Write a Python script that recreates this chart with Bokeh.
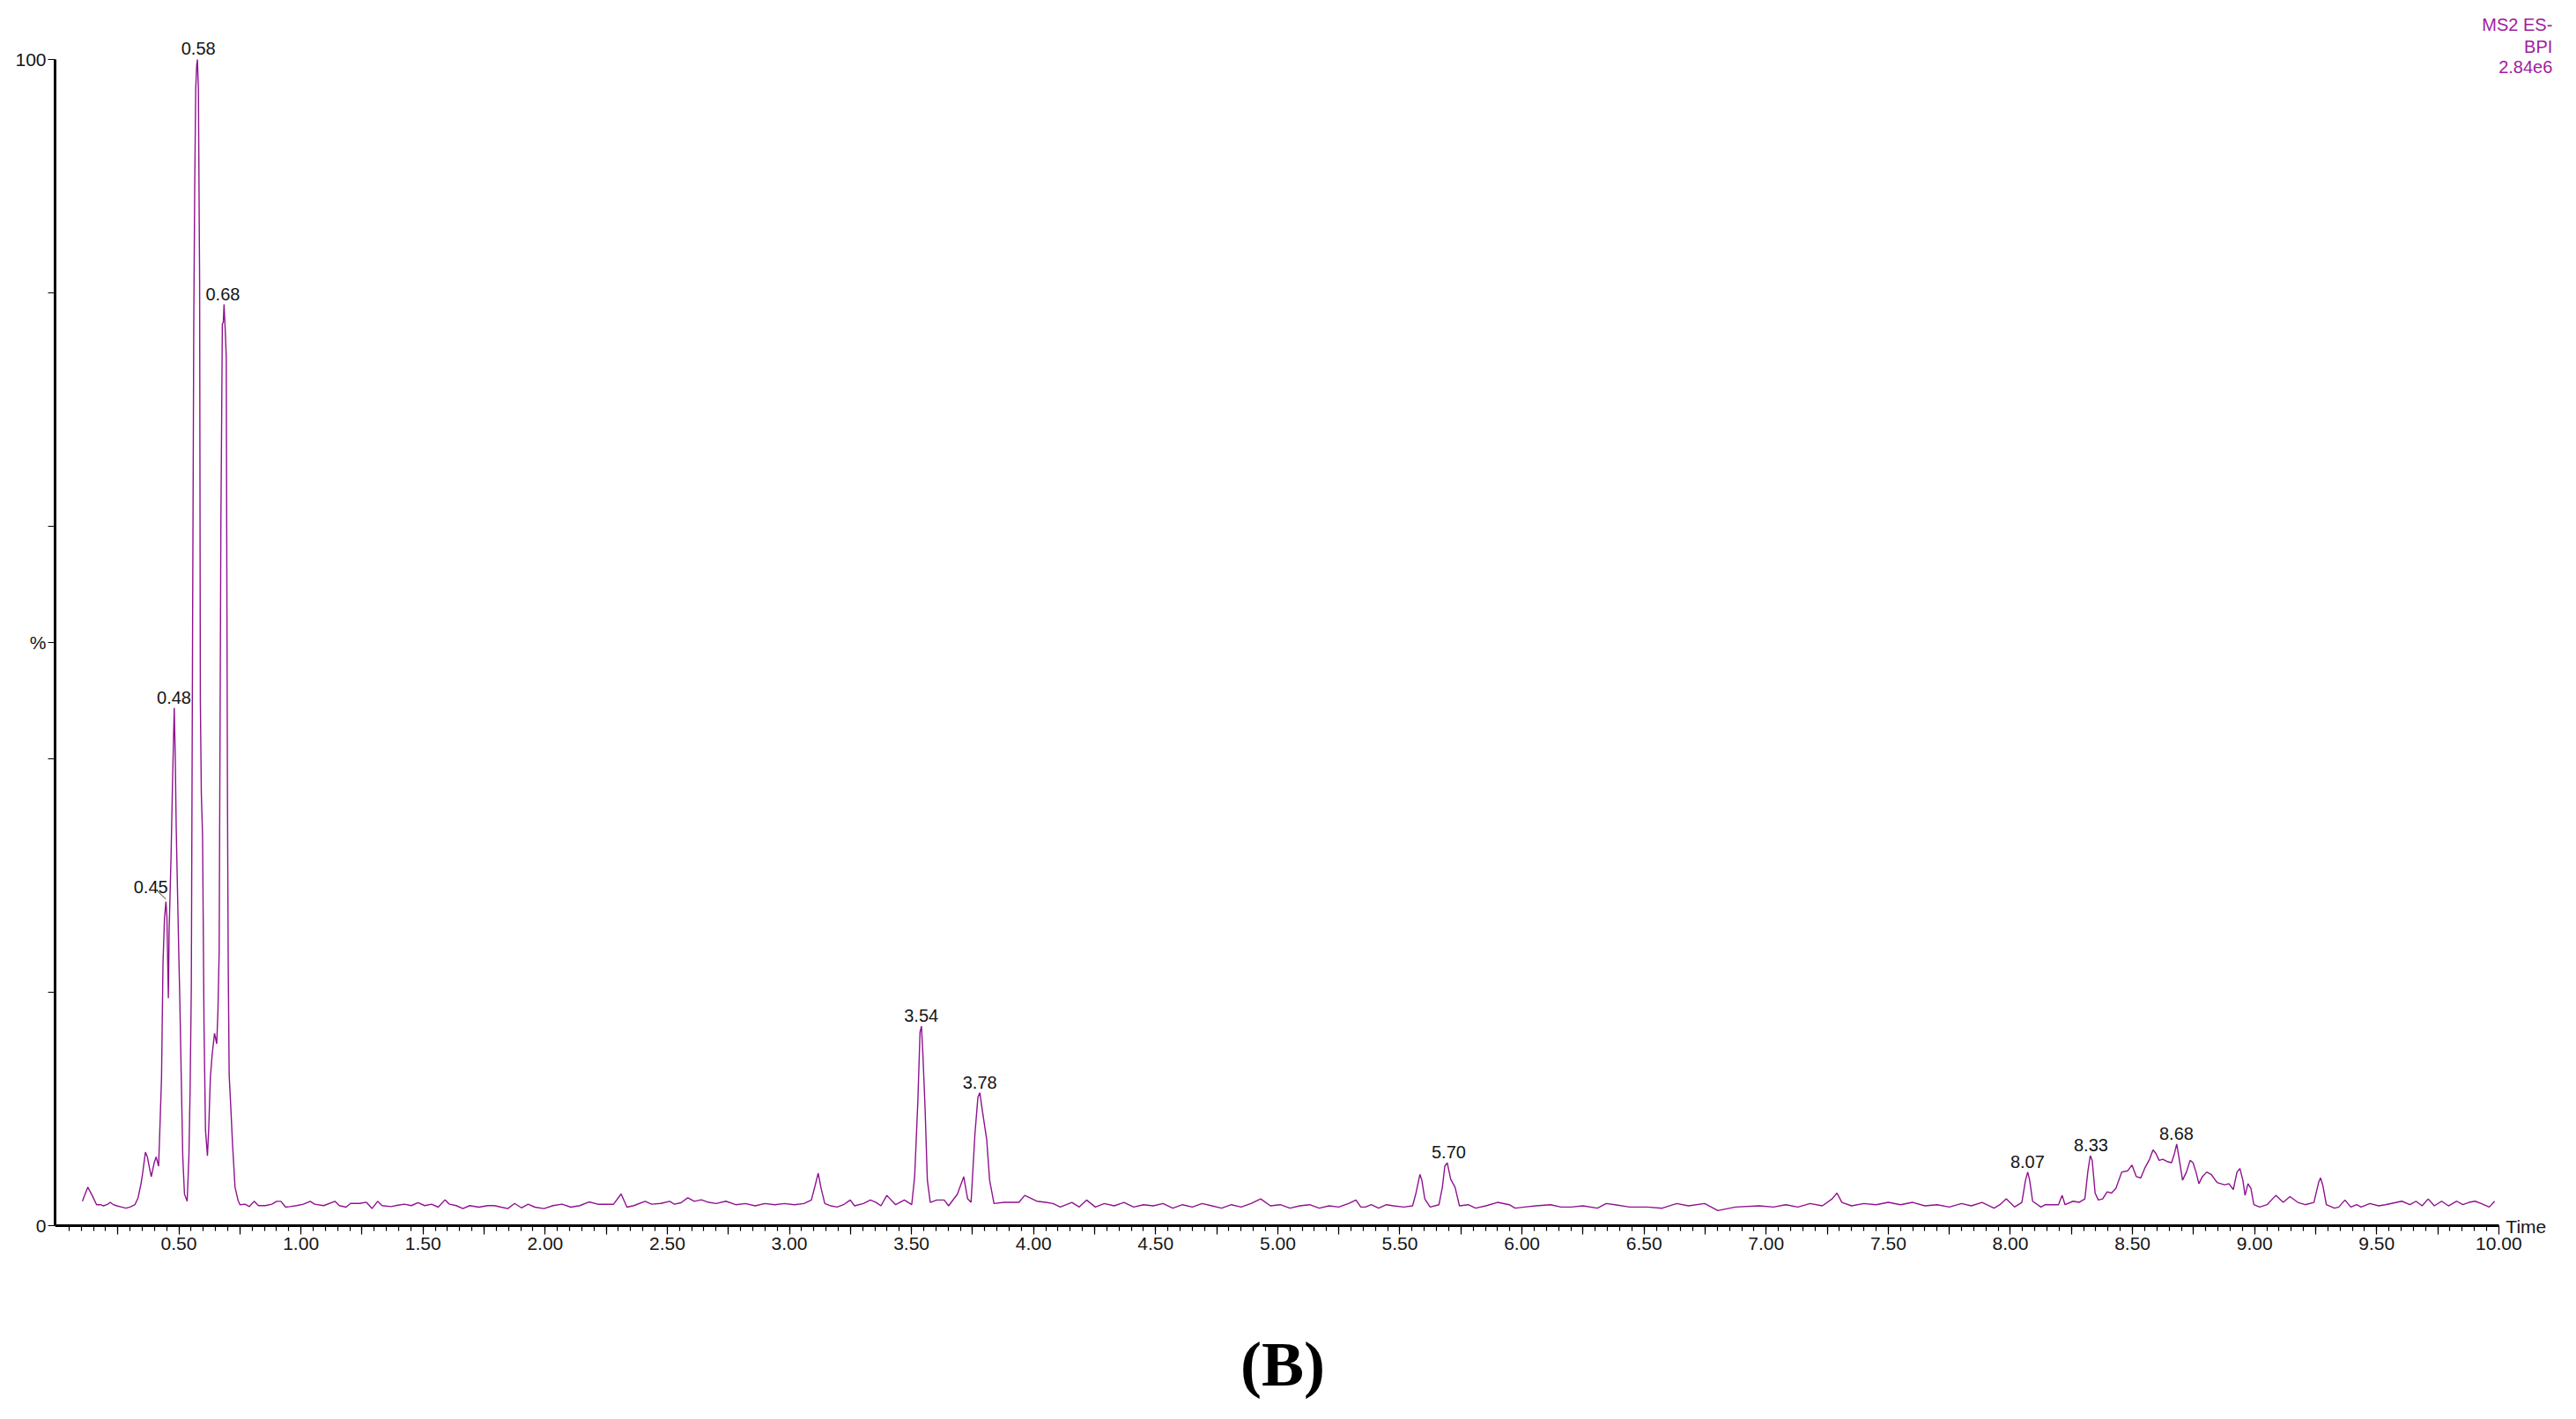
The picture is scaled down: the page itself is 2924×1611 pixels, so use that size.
from bokeh.plotting import figure
from bokeh.models import (ColumnDataSource, FixedTicker, CustomJSTickFormatter,
                          Label, LabelSet, Range1d, LinearAxis)
from bokeh.core.properties import value
from bokeh.embed import file_html
from bokeh.resources import INLINE

# ---------------- data ----------------
rt_min = [
    0.105, 0.127, 0.145, 0.163, 0.180, 0.191, 0.205, 0.219, 0.232, 0.246,
    0.265, 0.283, 0.300, 0.320, 0.333, 0.345, 0.351, 0.363, 0.371, 0.380,
    0.387, 0.399, 0.407, 0.417, 0.423, 0.429, 0.435, 0.441, 0.447, 0.451,
    0.457, 0.460, 0.468, 0.474, 0.481, 0.485, 0.489, 0.499, 0.504, 0.511,
    0.516, 0.523, 0.534, 0.541, 0.546, 0.551, 0.556, 0.561, 0.565, 0.569,
    0.573, 0.576, 0.580, 0.585, 0.588, 0.592, 0.597, 0.603, 0.609, 0.617,
    0.622, 0.629, 0.636, 0.646, 0.655, 0.660, 0.665, 0.672, 0.678, 0.682,
    0.685, 0.690, 0.694, 0.699, 0.702, 0.706, 0.713, 0.720, 0.730, 0.742,
    0.750, 0.771, 0.789, 0.808, 0.826, 0.854, 0.881, 0.900, 0.918, 0.937,
    0.955, 0.982, 1.010, 1.038, 1.056, 1.093, 1.139, 1.157, 1.185, 1.203,
    1.240, 1.268, 1.291, 1.314, 1.332, 1.369, 1.397, 1.424, 1.452, 1.479,
    1.507, 1.535, 1.562, 1.590, 1.608, 1.636, 1.663, 1.691, 1.728, 1.765,
    1.792, 1.820, 1.847, 1.875, 1.903, 1.930, 1.958, 1.995, 2.032, 2.069,
    2.105, 2.142, 2.179, 2.216, 2.252, 2.280, 2.311, 2.335, 2.363, 2.409,
    2.436, 2.473, 2.510, 2.529, 2.556, 2.584, 2.611, 2.639, 2.670, 2.700,
    2.740, 2.780, 2.820, 2.860, 2.900, 2.940, 2.980, 3.020, 3.060, 3.090,
    3.105, 3.118, 3.130, 3.145, 3.170, 3.195, 3.222, 3.249, 3.267, 3.303,
    3.332, 3.355, 3.375, 3.399, 3.435, 3.471, 3.501, 3.513, 3.526, 3.535,
    3.541, 3.547, 3.556, 3.565, 3.577, 3.604, 3.634, 3.652, 3.688, 3.714,
    3.730, 3.744, 3.760, 3.772, 3.780, 3.790, 3.808, 3.820, 3.838, 3.880,
    3.940, 3.964, 4.013, 4.049, 4.080, 4.109, 4.157, 4.187, 4.217, 4.253,
    4.290, 4.330, 4.370, 4.410, 4.450, 4.490, 4.530, 4.570, 4.610, 4.650,
    4.690, 4.730, 4.770, 4.810, 4.850, 4.890, 4.930, 4.970, 5.010, 5.050,
    5.090, 5.130, 5.170, 5.210, 5.250, 5.290, 5.320, 5.340, 5.359, 5.383,
    5.413, 5.445, 5.474, 5.516, 5.552, 5.566, 5.582, 5.590, 5.602, 5.624,
    5.660, 5.674, 5.684, 5.694, 5.708, 5.726, 5.744, 5.780, 5.810, 5.852,
    5.900, 5.948, 5.972, 6.010, 6.057, 6.117, 6.160, 6.201, 6.250, 6.309,
    6.345, 6.381, 6.441, 6.514, 6.574, 6.634, 6.682, 6.748, 6.802, 6.874,
    6.971, 7.030, 7.080, 7.130, 7.180, 7.230, 7.270, 7.290, 7.310, 7.350,
    7.400, 7.450, 7.500, 7.550, 7.600, 7.650, 7.700, 7.750, 7.800, 7.840,
    7.884, 7.933, 7.957, 7.983, 8.017, 8.047, 8.062, 8.071, 8.079, 8.091,
    8.125, 8.143, 8.197, 8.212, 8.224, 8.257, 8.281, 8.305, 8.317, 8.327,
    8.335, 8.347, 8.360, 8.378, 8.396, 8.414, 8.432, 8.456, 8.480, 8.498,
    8.516, 8.534, 8.552, 8.570, 8.584, 8.596, 8.609, 8.624, 8.642, 8.660,
    8.672, 8.681, 8.690, 8.705, 8.721, 8.736, 8.748, 8.760, 8.772, 8.786,
    8.804, 8.822, 8.847, 8.877, 8.895, 8.913, 8.928, 8.940, 8.952, 8.961,
    8.973, 8.985, 8.997, 9.021, 9.051, 9.087, 9.117, 9.145, 9.177, 9.207,
    9.243, 9.262, 9.270, 9.279, 9.294, 9.327, 9.345, 9.370, 9.394, 9.418,
    9.436, 9.472, 9.508, 9.536, 9.603, 9.636, 9.661, 9.686, 9.711, 9.736,
    9.766, 9.794, 9.828, 9.853, 9.878, 9.903, 9.928, 9.961, 9.983,
]

bpi_pct = [
    2.1, 3.3, 2.6, 1.8, 1.8, 1.7, 1.8, 2.0, 1.8, 1.7,
    1.6, 1.5, 1.6, 1.8, 2.4, 3.6, 4.4, 6.3, 5.9, 4.9,
    4.2, 5.4, 5.9, 5.1, 8.8, 12.7, 22.5, 26.3, 27.8, 26.5,
    19.5, 25.2, 31.7, 38.0, 44.4, 40.5, 34.3, 24.0, 19.2, 11.4,
    5.9, 2.7, 2.1, 5.9, 11.6, 20.5, 50.0, 77.3, 89.4, 97.5,
    99.5, 100.0, 97.4, 80.9, 45.0, 37.0, 33.5, 17.2, 8.2, 6.0,
    8.2, 12.7, 14.6, 16.5, 15.6, 18.4, 23.5, 60.0, 77.3, 77.5,
    79.0, 76.7, 74.5, 37.0, 22.7, 12.9, 10.0, 6.9, 3.3, 2.2,
    1.8, 1.84, 1.64, 2.09, 1.72, 1.72, 1.84, 2.09, 2.09, 1.59,
    1.64, 1.72, 1.84, 2.09, 1.84, 1.72, 2.09, 1.72, 1.59, 1.91,
    1.91, 2.01, 1.47, 2.09, 1.72, 1.64, 1.76, 1.84, 1.72, 1.97,
    1.72, 1.84, 1.59, 2.22, 1.84, 1.72, 1.47, 1.72, 1.59, 1.72,
    1.72, 1.59, 1.47, 1.91, 1.53, 1.84, 1.59, 1.47, 1.72, 1.84,
    1.59, 1.72, 2.04, 1.84, 1.84, 1.84, 2.72, 1.59, 1.72, 2.09,
    1.84, 1.91, 2.09, 1.84, 1.97, 2.39, 2.09, 2.22, 2.0, 1.9,
    2.1, 1.8, 1.9, 1.7, 1.9, 1.8, 1.9, 1.8, 1.9, 2.2,
    3.4, 4.5, 3.2, 1.9, 1.7, 1.6, 1.8, 2.2, 1.7, 1.9,
    2.2, 2.0, 1.7, 2.6, 1.8, 2.2, 1.8, 4.2, 10.6, 16.6,
    17.1, 14.6, 9.9, 3.9, 2.0, 2.2, 2.2, 1.7, 2.7, 4.2,
    2.3, 2.0, 7.9, 11.0, 11.4, 9.9, 7.4, 3.9, 1.9, 2.0,
    2.0, 2.6, 2.1, 2.0, 1.9, 1.6, 2.0, 1.6, 2.2, 1.6,
    1.9, 1.7, 2.0, 1.6, 1.8, 1.7, 1.9, 1.5, 1.8, 1.6,
    1.9, 1.7, 1.5, 1.8, 1.6, 1.9, 2.3, 1.7, 1.8, 1.5,
    1.7, 1.8, 1.5, 1.7, 1.6, 1.9, 2.2, 1.6, 1.6, 1.8,
    1.5, 1.8, 1.7, 1.6, 1.7, 2.8, 4.4, 3.9, 2.3, 1.6,
    1.8, 3.3, 5.1, 5.4, 4.0, 3.3, 1.7, 1.8, 1.5, 1.7,
    2.0, 1.8, 1.5, 1.6, 1.7, 1.8, 1.6, 1.6, 1.7, 1.5,
    1.9, 1.8, 1.6, 1.6, 1.5, 1.9, 1.7, 1.9, 1.3, 1.6,
    1.7, 1.6, 1.8, 1.6, 1.9, 1.7, 2.3, 2.8, 2.0, 1.7,
    1.9, 1.8, 2.0, 1.8, 2.0, 1.7, 1.8, 1.6, 1.9, 1.7,
    2.0, 1.5, 1.8, 2.3, 1.6, 2.0, 3.9, 4.6, 3.9, 2.1,
    1.6, 1.8, 1.8, 2.6, 1.8, 2.1, 2.0, 2.3, 4.6, 6.0,
    5.6, 2.8, 2.2, 2.3, 2.9, 2.8, 3.2, 4.6, 4.7, 5.2,
    4.2, 4.1, 5.0, 5.7, 6.5, 6.2, 5.6, 5.7, 5.5, 5.4,
    6.2, 7.0, 5.9, 3.9, 4.6, 5.6, 5.4, 4.6, 3.6, 4.2,
    4.6, 4.4, 3.7, 3.5, 3.6, 3.1, 4.6, 4.9, 3.9, 2.6,
    3.6, 3.2, 1.8, 1.6, 1.8, 2.6, 2.0, 2.5, 2.0, 1.8,
    2.0, 3.7, 4.1, 3.5, 1.8, 1.5, 1.6, 2.2, 1.6, 1.8,
    1.6, 1.9, 1.7, 1.8, 2.1, 1.8, 2.1, 1.7, 2.3, 1.7,
    2.1, 1.7, 2.1, 1.8, 2.0, 2.1, 1.9, 1.6, 2.1,
]

peak_labels = ["0.48", "0.58", "0.68", "3.54", "3.78", "5.70", "8.07", "8.33", "8.68"]
peak_pct = [44.4, 100.0, 79.0, 17.1, 11.4, 5.4, 4.6, 6.0, 7.0]
shoulder_label = "0.45"
shoulder_pct = 27.8

x_major_ticks = [0.25 * i for i in range(1, 41)]
x_minor_ticks = [round(0.05 * i, 2) for i in range(1, 200)]
y_major_ticks = [0, 20, 40, 50, 60, 80, 100]

trace_title = ["MS2 ES-", "BPI", "2.84e6"]
x_axis_title = "Time"
panel_tag = "(B)"

# ---------------- styling ----------------
TRACE = "#8f128f"
TITLE_PURPLE = "#a01ca0"
INK = "#151515"
SANS = "Liberation Sans"
TAG_X = 5.02          # horizontal anchor (in minutes) of the panel tag under the axis

# The frame reaches the top/right edges and a little below 0 % so that every text
# placed around the trace is inside it; the axes are bounded to 0-10 min / 0-100 %.
p = figure(width=2924, height=1611,
           x_range=Range1d(-0.007, 10.318), y_range=Range1d(-4.0, 105.06),
           output_backend="svg", toolbar_location=None,
           min_border_left=62, min_border_right=0,
           min_border_top=0, min_border_bottom=167)
p.outline_line_color = None
p.xgrid.grid_line_color = None
p.ygrid.grid_line_color = None
p.background_fill_color = "white"
p.border_fill_color = "white"

# x axis (drawn at 0 %)
xa = p.xaxis[0]
xa.fixed_location = 0
xa.bounds = (-0.007, 10.0)
xa.ticker = FixedTicker(ticks=x_major_ticks, minor_ticks=x_minor_ticks)
xa.formatter = CustomJSTickFormatter(code="""
    const h = tick * 2;
    return (Math.abs(h - Math.round(h)) < 1e-6) ? tick.toFixed(2) : "";
""")
xa.axis_line_width = 3
xa.axis_line_color = "black"
xa.major_tick_in = 0
xa.major_tick_out = 10
xa.minor_tick_in = 0
xa.minor_tick_out = 6
xa.major_tick_line_width = 1.2
xa.minor_tick_line_width = 1.2
xa.major_label_standoff = 3
xa.major_label_text_font = SANS
xa.major_label_text_font_size = "21px"
xa.major_label_text_color = INK

# invisible second bottom axis whose single tick label is the panel tag "(B)"
tag_axis = LinearAxis(ticker=FixedTicker(ticks=[TAG_X], minor_ticks=[]),
                      formatter=CustomJSTickFormatter(args=dict(tag=panel_tag),
                                                      code="return tag;"),
                      axis_line_color=None, major_tick_out=0, major_tick_in=0,
                      minor_tick_out=0, minor_tick_in=0,
                      major_label_standoff=64,
                      major_label_text_font="Liberation Serif",
                      major_label_text_font_style="bold",
                      major_label_text_font_size="72px",
                      major_label_text_color="black")
p.add_layout(tag_axis, "below")

# y axis
ya = p.yaxis[0]
ya.bounds = (0, 100)
ya.ticker = FixedTicker(ticks=y_major_ticks, minor_ticks=[])
ya.formatter = CustomJSTickFormatter(code="""
    if (tick == 0) return "0";
    if (tick == 100) return "100";
    if (tick == 50) return "%";
    return "";
""")
ya.axis_line_width = 3
ya.axis_line_color = "black"
ya.major_tick_in = 0
ya.major_tick_out = 8
ya.minor_tick_out = 0
ya.major_tick_line_width = 1.2
ya.major_label_standoff = 2
ya.major_label_text_font = SANS
ya.major_label_text_font_size = "21px"
ya.major_label_text_color = INK

# trace
p.line(rt_min, bpi_pct, line_color=TRACE, line_width=1.4)

# peak labels
src = ColumnDataSource(dict(x=[float(t) for t in peak_labels], y=peak_pct, text=peak_labels))
p.add_layout(LabelSet(x="x", y="y", text="text", source=src,
                      text_align="center", text_baseline="alphabetic",
                      y_offset=5, text_font=value(SANS), text_font_size="20px",
                      text_color=INK))

# shoulder label with leader
sx = float(shoulder_label)
p.add_layout(Label(x=sx, y=shoulder_pct, text=shoulder_label,
                   x_offset=-18, y_offset=16, text_align="center",
                   text_baseline="alphabetic", text_font=SANS,
                   text_font_size="20px", text_color=INK))
p.segment(x0=[sx - 0.003], y0=[shoulder_pct + 0.2],
          x1=[sx - 0.045], y1=[shoulder_pct + 1.03],
          line_color="#333333", line_width=1)

# trace title (top right)
for line_txt, off in zip(trace_title, [39.5, 14.5, -8.8]):
    p.add_layout(Label(x=10.0, y=100, text=line_txt, x_offset=61, y_offset=off,
                       text_align="right", text_baseline="middle",
                       text_font=SANS, text_font_size="20px",
                       text_color=TITLE_PURPLE))

# axis title "Time"
p.add_layout(Label(x=10.0, y=0, text=x_axis_title, x_offset=8, y_offset=-1,
                   text_align="left", text_baseline="middle",
                   text_font=SANS, text_font_size="21px", text_color=INK))

open("out.html", "w").write(file_html(p, INLINE))
